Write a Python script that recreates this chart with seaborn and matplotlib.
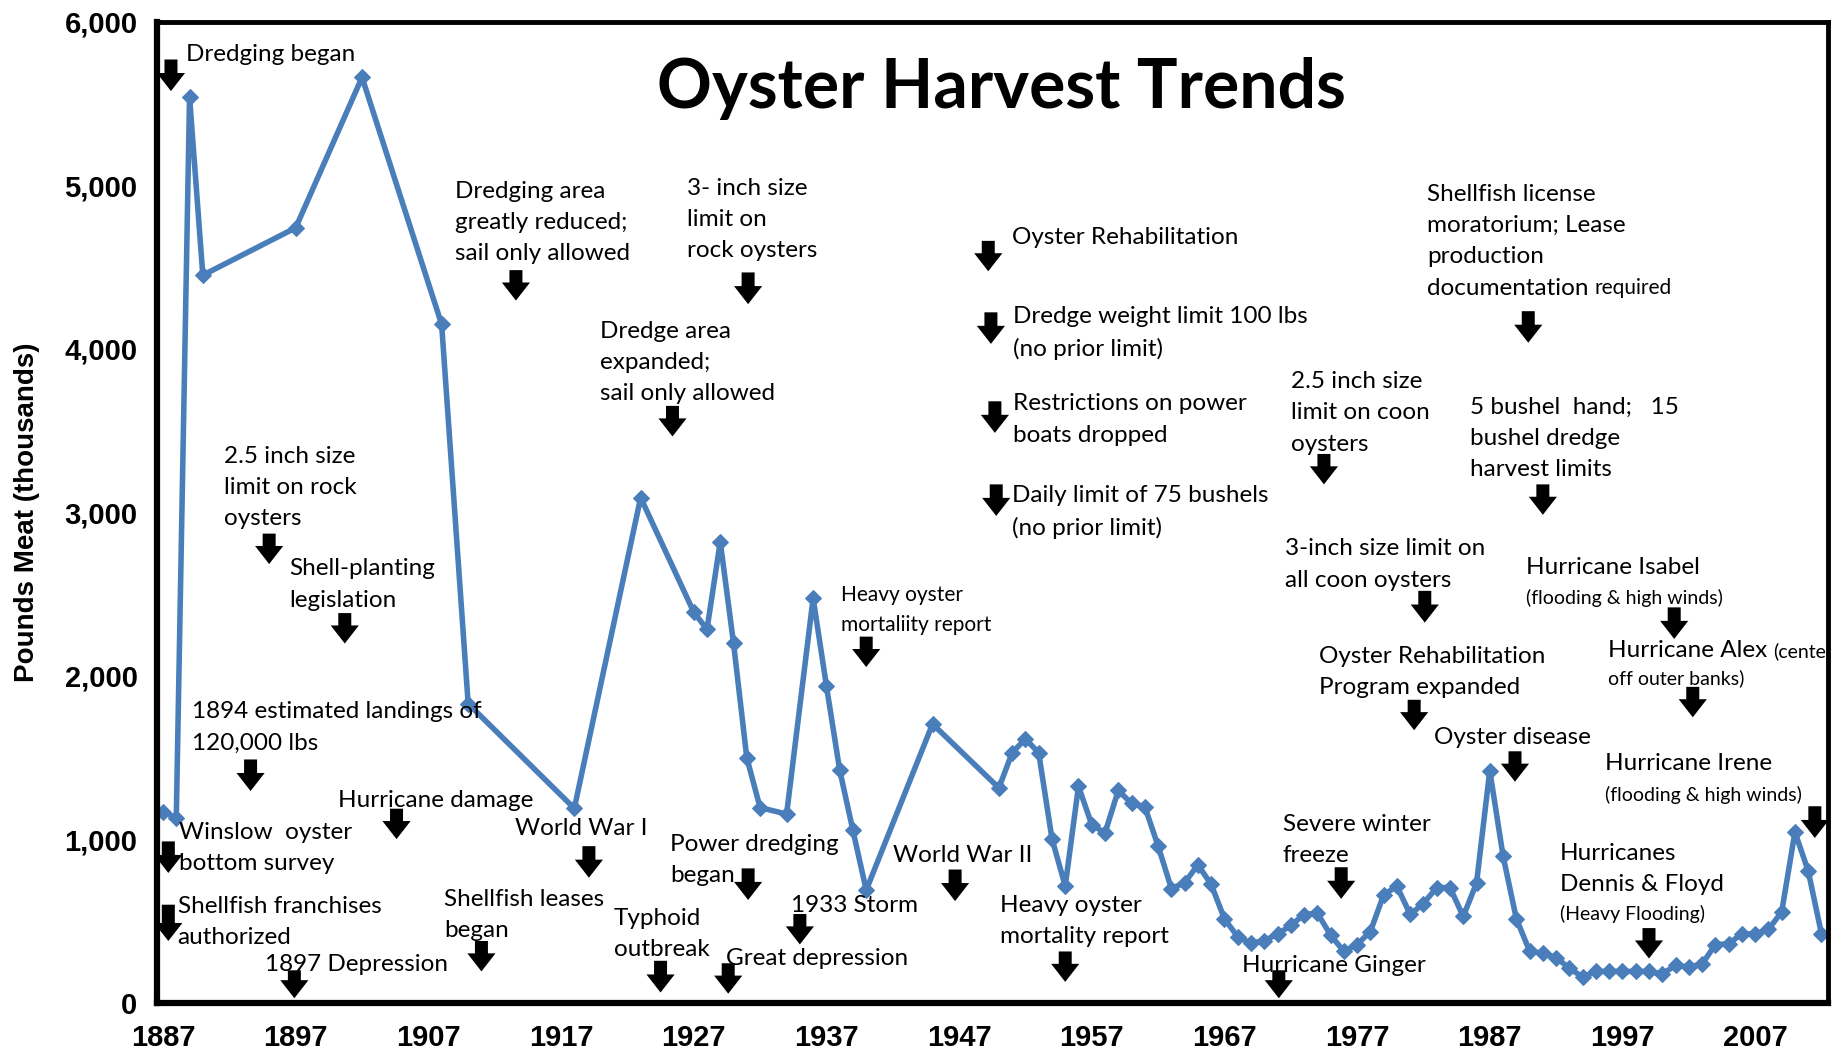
import matplotlib
matplotlib.use("Agg")
import matplotlib.pyplot as plt
import seaborn as sns
import pandas as pd
from matplotlib.ticker import MultipleLocator, FuncFormatter

# ---------------- data ----------------
years = [1887, 1888, 1889, 1890, 1897, 1902, 1908, 1910, 1918, 1923,
         1927, 1928, 1929, 1930, 1931, 1932, 1934, 1936, 1937, 1938,
         1939, 1940, 1945, 1950, 1951, 1952, 1953, 1954, 1955, 1956,
         1957, 1958, 1959, 1960, 1961, 1962, 1963, 1964, 1965, 1966,
         1967, 1968, 1969, 1970, 1971, 1972, 1973, 1974, 1975, 1976,
         1977, 1978, 1979, 1980, 1981, 1982, 1983, 1984, 1985, 1986,
         1987, 1988, 1989, 1990, 1991, 1992, 1993, 1994, 1995, 1996,
         1997, 1998, 1999, 2000, 2001, 2002, 2003, 2004, 2005, 2006,
         2007, 2008, 2009, 2010, 2011, 2012]
pounds = [1170, 1130, 5540, 4450, 4740, 5660, 4150, 1830, 1190, 3090,
          2390, 2285, 2820, 2200, 1500, 1195, 1155, 2475, 1940, 1425,
          1055, 690, 1706, 1315, 1530, 1615, 1530, 1005, 715, 1325,
          1090, 1040, 1300, 1220, 1200, 960, 700, 735, 845, 725,
          515, 405, 365, 382, 420, 475, 540, 550, 415, 316,
          357, 437, 661, 714, 542, 608, 706, 706, 529, 733,
          1421, 899, 516, 317, 304, 278, 212, 159, 193, 193,
          193, 193, 193, 177, 230, 220, 238, 357, 362, 423,
          423, 450, 556, 1045, 807, 423]

x_tick_labels = [str(y) for y in range(1887, 2008, 10)]
y_tick_values = [0, 1000, 2000, 3000, 4000, 5000, 6000]

title_text = "Oyster Harvest Trends"
y_label_text = "Pounds Meat (thousands)"

# annotation texts: (text, x, y-center, size-key)
notes = [
    ("Dredging began", 1888.7, 5798, "m"),
    ("Dredging area\ngreatly reduced;\nsail only allowed", 1909.0, 4774, "m"),
    ("3- inch size\nlimit on\nrock oysters", 1926.5, 4792, "m"),
    ("Dredge area\nexpanded;\nsail only allowed", 1919.9, 3915, "m"),
    ("2.5 inch size\nlimit on rock\noysters", 1891.6, 3153, "m"),
    ("Shell-planting\nlegislation", 1896.5, 2559, "m"),
    ("1894 estimated landings of\n120,000 lbs", 1889.2, 1686, "m"),
    ("Hurricane damage", 1900.2, 1238, "m"),
    ("Winslow  oyster\nbottom survey", 1888.2, 948, "m"),
    ("Shellfish franchises\nauthorized", 1888.1, 497, "m"),
    ("1897 Depression", 1894.7, 236, "m"),
    ("Shellfish leases\nbegan", 1908.2, 537, "m"),
    ("World War I", 1913.5, 1067, "m"),
    ("Typhoid\noutbreak", 1921.0, 422, "m"),
    ("Power dredging\nbegan", 1925.2, 873, "m"),
    ("1933 Storm", 1934.3, 594, "m"),
    ("Great depression", 1929.4, 272, "m"),
    ("Heavy oyster\nmortaliity report", 1938.1, 2402, "s"),
    ("World War II", 1942.0, 902, "m"),
    ("Heavy oyster\nmortality report", 1950.1, 501, "m"),
    ("Oyster Rehabilitation", 1951.0, 4681, "m"),
    ("Dredge weight limit 100 lbs\n(no prior limit)", 1951.1, 4098, "m"),
    ("Restrictions on power\nboats dropped", 1951.1, 3568, "m"),
    ("Daily limit of 75 bushels\n(no prior limit)", 1951.0, 3003, "m"),
    ("2.5 inch size\nlimit on coon\noysters", 1972.0, 3608, "m"),
    ("3-inch size limit on\nall coon oysters", 1971.6, 2681, "m"),
    ("Oyster Rehabilitation\nProgram expanded", 1974.1, 2022, "m"),
    ("Severe winter\nfreeze", 1971.4, 999, "m"),
    ("Hurricane Ginger", 1968.3, 229, "m"),
    ("Shellfish license\nmoratorium; Lease\nproduction", 1982.3, 4753, "m"),
    ("documentation", 1982.3, 4366, "m"),
    ("5 bushel  hand;   15\nbushel dredge\nharvest limits", 1985.5, 3450, "m"),
    ("Hurricane Isabel", 1989.7, 2663, "m"),
    ("(flooding & high winds)", 1989.7, 2477, "xs"),
    ("Hurricane Alex", 1995.9, 2155, "m"),
    ("off outer banks)", 1995.9, 1983, "xs"),
    ("Oyster disease", 1982.8, 1625, "m"),
    ("Hurricane Irene", 1995.7, 1467, "m"),
    ("(flooding & high winds)", 1995.7, 1274, "xs"),
    ("Hurricanes\nDennis & Floyd", 1992.3, 820, "m"),
    ("(Heavy Flooding)", 1992.3, 544, "xs"),
]

# small texts that continue a line of another note: (parent, text, size-key)
tails = [
    ("documentation", "required", "s"),
    ("Hurricane Alex", "(center", "xs"),
]

# arrows: (x, y_top, y_tip)
arrows = [
    (1887.6, 5769, 5576), (1913.6, 4481, 4295), (1931.1, 4467, 4273),
    (1925.4, 3651, 3464), (1895.0, 2870, 2684), (1900.7, 2384, 2198),
    (1893.6, 1489, 1296), (1904.6, 1188, 1002), (1887.4, 988, 795),
    (1887.4, 601, 379), (1896.9, 200, 29), (1911.0, 379, 193),
    (1919.1, 959, 766), (1924.5, 258, 64), (1931.1, 823, 630),
    (1935.0, 544, 358), (1929.6, 243, 57), (1940.0, 2240, 2054),
    (1946.7, 816, 623), (1955.0, 315, 129), (1949.2, 4660, 4474),
    (1949.4, 4223, 4030), (1949.7, 3679, 3486), (1949.8, 3171, 2978),
    (1974.5, 3357, 3171), (1982.1, 2520, 2326), (1981.3, 1854, 1668),
    (1975.8, 830, 637), (1971.1, 200, 29), (1989.9, 4230, 4037),
    (1991.0, 3171, 2985), (2000.9, 2419, 2226), (2002.3, 1933, 1747),
    (1988.9, 1539, 1353), (2011.5, 1203, 1009), (1999.0, 458, 272),
]

# ---------------- style ----------------
sns.set_style("white")
plt.rcParams["font.family"] = ["Liberation Sans", "DejaVu Sans"]
plt.rcParams["text.color"] = "black"
plt.rcParams["axes.labelcolor"] = "black"
plt.rcParams["xtick.labelcolor"] = "black"
plt.rcParams["ytick.labelcolor"] = "black"

fig = plt.figure(figsize=(18.41, 10.54), dpi=100)
ax = fig.add_axes([0.0853, 0.0484, 0.9077, 0.931])

df = pd.DataFrame({"Year": years, "Pounds": pounds})
line_color = "#4a7ebb"
sns.lineplot(data=df, x="Year", y="Pounds", ax=ax, color=line_color,
             linewidth=4.0, marker="D", markersize=8,
             markeredgecolor=line_color, markerfacecolor=line_color)

ax.set_xlim(1886.55, 2012.5)
ax.set_ylim(0, 6000)
ax.set_xticks([int(t) for t in x_tick_labels])
ax.set_xticklabels(x_tick_labels)
ax.xaxis.set_minor_locator(MultipleLocator(1))
ax.set_yticks(y_tick_values)
ax.yaxis.set_major_formatter(FuncFormatter(lambda v, p: f"{int(v):,}"))

for lab in ax.get_xticklabels() + ax.get_yticklabels():
    lab.set_fontweight("bold")
    lab.set_fontsize(21)
    lab.set_color("black")
    lab.set_family(["Liberation Sans", "DejaVu Sans"])

ax.tick_params(axis="y", which="major", direction="out", length=6,
               width=1, color="#999999", pad=8, labelcolor="black")
ax.tick_params(axis="x", which="major", direction="out", length=6,
               width=1, color="#999999", pad=9, labelcolor="black")
ax.tick_params(axis="x", which="minor", direction="out", length=4,
               width=1, color="#999999")

ax.set_xlabel("")
ax.set_ylabel(y_label_text, fontsize=20, fontweight="bold", color="black",
              family=["Liberation Sans", "DejaVu Sans"])
ax.yaxis.set_label_coords(-0.07, 0.5)

for side in ["left", "bottom"]:
    ax.spines[side].set_linewidth(4.5)
    ax.spines[side].set_color("black")
for side in ["top", "right"]:
    ax.spines[side].set_linewidth(3.5)
    ax.spines[side].set_color("black")
    ax.spines[side].set_visible(True)

# title inside plot
ax.text(1950.2, 5590, title_text, ha="center", va="center", color="black",
        fontsize=49, fontweight="bold", family=["Lato", "DejaVu Sans"])

sizes = {"m": 17.5, "s": 15, "xs": 14}
spacing = {"m": 1.6, "s": 1.65, "xs": 1.65}
made = {}
for txt, x, y, sk in notes:
    t = ax.text(x, y, txt, ha="left", va="center", fontsize=sizes[sk],
                family=["Lato", "DejaVu Sans"], linespacing=spacing[sk],
                color="black")
    made[txt] = t

for parent, txt, sk in tails:
    t = ax.annotate(txt, xy=(1, 0), xycoords=made[parent],
                    xytext=(4, 1), textcoords="offset points",
                    ha="left", va="bottom", fontsize=sizes[sk],
                    family=["Lato", "DejaVu Sans"], color="black",
                    annotation_clip=False)
    t.set_clip_on(True)
    t.set_clip_box(ax.bbox)

for x, yt, yb in arrows:
    ax.annotate("", xy=(x, yb), xytext=(x, yt),
                arrowprops=dict(arrowstyle="simple,head_length=0.5,head_width=0.78,tail_width=0.36",
                                fc="black", ec="black", lw=0,
                                shrinkA=0, shrinkB=0, mutation_scale=26))

fig.savefig("out.png", dpi=100, facecolor="white")
